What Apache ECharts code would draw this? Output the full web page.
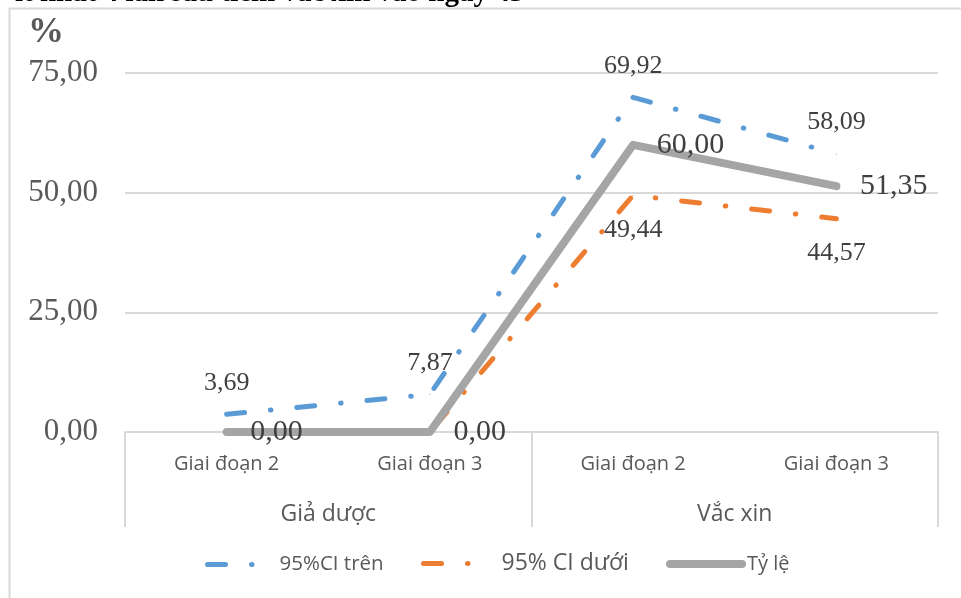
<!DOCTYPE html>
<html>
<head>
<meta charset="utf-8">
<script src="https://cdn.jsdelivr.net/npm/echarts@6/dist/echarts.min.js"></script>
<style>html,body{margin:0;padding:0;background:#fff}#c{width:961px;height:598px}</style>
</head>
<body>
<div id="c"></div>
<script>
const categories = ['Giai đoạn 2', 'Giai đoạn 3', 'Giai đoạn 2', 'Giai đoạn 3'];
const groups = ['Giả dược', 'Vắc xin'];
const upperCI = [3.69, 7.87, 69.92, 58.09];
const lowerCI = [0, 0, 49.44, 44.57];
const rate = [0, 0, 60.00, 51.35];
const seriesNames = ['95%CI trên', '95% CI dưới', 'Tỷ lệ'];
const yMin = 0, yMax = 75, yStep = 25;
const titleText = 'ít nhất 4 lần sau tiêm vắc xin vào ngày 43';

const fmt = v => Number(v).toFixed(2).replace('.', ',');
const serif = '"Liberation Serif", "Times New Roman", serif';
const sans = '"Open Sans", "Noto Sans", sans-serif';
const dashDot = [18, 26, 0.5, 26];

const chart = echarts.init(document.getElementById('c'), null, {renderer: 'canvas'});

const lowerData = lowerCI.map(v => v === 0 ? {value: v, label: {show: false}} : v);

chart.setOption({
  backgroundColor: '#ffffff',
  animation: false,
  graphic: [
    {type: 'rect', shape: {x: 9.5, y: 8.5, width: 1000, height: 700}, style: {fill: 'none', stroke: '#D9D9D9', lineWidth: 2}, silent: true, z: -1},
    {type: 'text', left: 15, top: -21, style: {text: titleText, font: 'bold 29px ' + serif, fill: '#000'}},
    {type: 'text', left: 28, top: 15, style: {text: '%', font: 'bold 36px ' + serif, fill: '#595959'}}
  ],
  grid: {left: 125, right: 23, top: 73, bottom: 166, containLabel: false},
  legend: [
    {data: [{name: seriesNames[0], itemStyle: {opacity: 0}}], left: 200, top: 549, itemWidth: 52, itemHeight: 14,
     lineStyle: {width: 5, type: dashDot, cap: 'round'},
     textStyle: {fontFamily: sans, fontSize: 20.5, color: '#595959', padding: [0, 0, 0, 15]}},
    {data: [{name: seriesNames[1], itemStyle: {opacity: 0}}], left: 416, top: 547, itemWidth: 52, itemHeight: 14,
     lineStyle: {width: 5, type: dashDot, cap: 'round'},
     textStyle: {fontFamily: sans, fontSize: 23, color: '#595959', padding: [0, 0, 0, 21]}},
    {data: [{name: seriesNames[2], itemStyle: {opacity: 0}}], left: 661, top: 549, itemWidth: 72, itemHeight: 14,
     lineStyle: {width: 8, cap: 'round'},
     textStyle: {fontFamily: sans, fontSize: 20, color: '#595959', padding: [0, 0, 0, 0]}}
  ],
  xAxis: [
    {type: 'category', data: categories, boundaryGap: true, position: 'bottom',
     axisLine: {show: true, lineStyle: {color: '#D9D9D9', width: 2}},
     axisTick: {show: false},
     axisLabel: {interval: 0, margin: 22, fontFamily: sans, fontSize: 20, color: '#595959'},
     splitLine: {show: false}},
    {type: 'category', data: groups, boundaryGap: true, position: 'bottom',
     axisLine: {show: false},
     axisTick: {show: true, length: 95, interval: 0, lineStyle: {color: '#D9D9D9', width: 2}},
     axisLabel: {interval: 0, margin: 71, fontFamily: sans, fontSize: 23, color: '#595959'},
     splitLine: {show: false}}
  ],
  yAxis: {
    type: 'value', min: yMin, max: yMax, interval: yStep,
    axisLine: {show: false}, axisTick: {show: false},
    axisLabel: {formatter: v => fmt(v), margin: 27, fontFamily: serif, fontSize: 31, color: '#595959'},
    splitLine: {show: true, lineStyle: {color: '#D9D9D9', width: 2}}
  },
  series: [
    {name: seriesNames[0], type: 'line', data: upperCI, symbol: 'circle', symbolSize: 1, showSymbol: true, z: 2,
     lineStyle: {color: '#5B9BD5', width: 5, type: dashDot, cap: 'round', join: 'round'},
     itemStyle: {color: '#5B9BD5'},
     label: {show: true, opacity: 1, position: 'top', distance: 18, formatter: p => fmt(p.value),
             fontFamily: serif, fontSize: 26, color: '#404040'}},
    {name: seriesNames[1], type: 'line', data: lowerData, symbol: 'circle', symbolSize: 1, showSymbol: true, z: 2,
     lineStyle: {color: '#ED7D31', width: 5, type: dashDot, cap: 'round', join: 'round'},
     itemStyle: {color: '#ED7D31'},
     label: {show: true, opacity: 1, position: 'bottom', distance: 21, formatter: p => fmt(p.value),
             fontFamily: serif, fontSize: 26, color: '#404040'}},
    {name: seriesNames[2], type: 'line', data: rate, symbol: 'circle', symbolSize: 1, showSymbol: true, z: 3,
     lineStyle: {color: '#A5A5A5', width: 8, cap: 'round', join: 'round'},
     itemStyle: {color: '#A5A5A5'},
     label: {show: true, opacity: 1, position: 'right', distance: 23, formatter: p => fmt(p.value),
             fontFamily: serif, fontSize: 30, color: '#404040'}}
  ]
});
</script>
</body>
</html>
